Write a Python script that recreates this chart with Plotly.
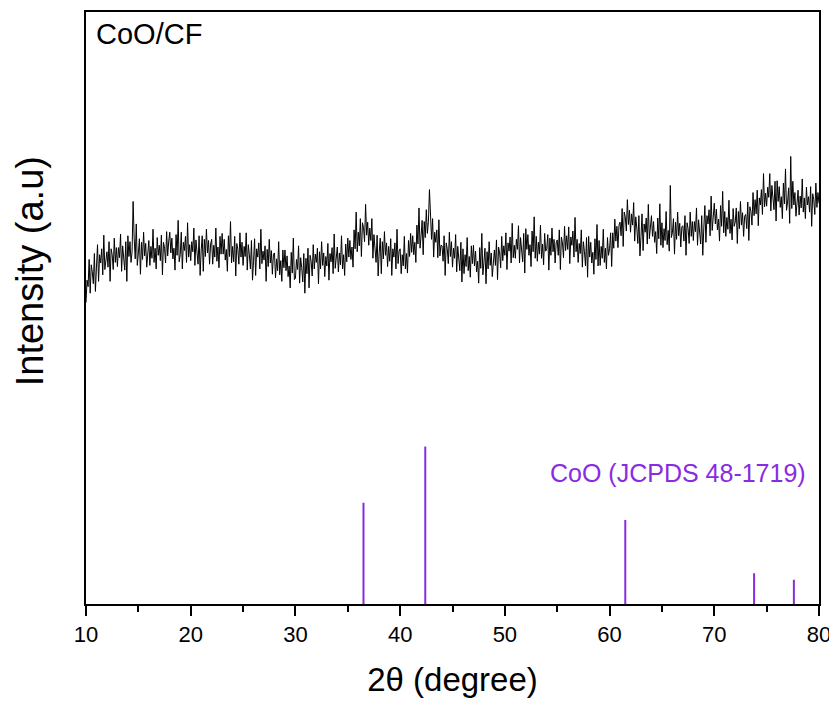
import plotly.graph_objects as go

# XRD pattern of CoO/CF, 2theta from 10 to 80 deg in 0.1 deg steps (arbitrary intensity units)
two_theta_start = 10.0
two_theta_step = 0.1
intensity = [
    50.9, 54.7, 53.6, 58.2, 52.5, 57.3, 56.1, 54.1, 59.2, 52.8,  # 10
    56.9, 60.7, 54.5, 59.0, 57.6, 60.0, 55.6, 62.3, 56.5, 58.6,  # 11
    59.5, 56.9, 61.2, 54.5, 60.0, 59.0, 56.5, 61.8, 57.7, 60.2,  # 12
    57.0, 60.2, 58.5, 62.5, 56.2, 60.5, 58.8, 56.4, 61.2, 54.5,  # 13
    62.2, 58.7, 61.2, 57.7, 59.5, 68.0, 61.8, 58.3, 64.2, 57.2,  # 14
    59.3, 61.7, 55.7, 61.1, 58.2, 62.8, 58.8, 60.9, 56.9, 60.3,  # 15
    61.4, 57.2, 60.4, 58.4, 63.3, 57.7, 60.1, 56.6, 61.9, 58.9,  # 16
    60.6, 58.0, 62.3, 55.6, 61.1, 60.1, 57.6, 62.9, 58.8, 61.3,  # 17
    62.8, 59.3, 61.8, 58.3, 60.1, 56.4, 62.4, 58.9, 64.8, 57.8,  # 18
    59.0, 62.8, 56.6, 61.1, 59.7, 62.1, 57.7, 64.4, 58.6, 60.7,  # 19
    58.0, 61.2, 59.5, 63.5, 57.2, 61.5, 59.8, 57.4, 62.2, 55.5,  # 20
    59.8, 62.2, 56.2, 61.6, 58.7, 63.3, 59.3, 61.4, 57.4, 60.8,  # 21
    61.6, 57.4, 60.6, 58.6, 63.5, 57.9, 60.3, 56.8, 62.1, 59.1,  # 22
    62.6, 59.1, 61.6, 58.1, 59.9, 56.2, 62.2, 58.7, 64.6, 57.6,  # 23
    60.4, 57.8, 62.1, 55.4, 60.9, 59.9, 57.4, 62.7, 58.6, 61.1,  # 24
    57.2, 60.4, 58.7, 62.7, 56.4, 60.7, 59.0, 56.6, 61.4, 54.7,  # 25
    57.9, 61.7, 55.5, 60.0, 58.6, 61.0, 56.6, 63.3, 57.5, 59.6,  # 26
    58.1, 60.5, 54.5, 59.9, 57.0, 61.6, 57.6, 59.7, 55.7, 59.1,  # 27
    59.3, 55.1, 58.3, 56.3, 61.2, 55.6, 58.0, 54.5, 59.8, 56.8,  # 28
    59.8, 56.3, 58.8, 55.3, 57.1, 53.4, 59.4, 55.9, 61.8, 54.8,  # 29
    55.0, 58.2, 56.5, 60.5, 54.2, 58.5, 56.8, 54.4, 59.2, 52.5,  # 30
    58.4, 55.8, 60.1, 53.4, 58.9, 57.9, 55.4, 60.7, 56.6, 59.1,  # 31
    57.7, 60.1, 54.1, 59.5, 56.6, 61.2, 57.2, 59.3, 55.3, 58.7,  # 32
    57.1, 60.9, 54.7, 59.2, 57.8, 60.2, 55.8, 62.5, 56.7, 58.8,  # 33
    60.3, 56.1, 59.3, 57.3, 62.2, 56.6, 59.0, 55.5, 60.8, 57.8,  # 34
    61.8, 58.6, 61.4, 58.2, 60.3, 56.9, 63.2, 60.0, 66.2, 59.5,  # 35
    62.8, 60.5, 65.1, 58.7, 64.4, 63.6, 61.2, 67.5, 62.3, 64.5,  # 36
    60.6, 63.5, 61.4, 65.1, 58.4, 62.4, 60.4, 57.7, 62.3, 55.4,  # 37
    59.4, 61.8, 55.8, 61.2, 58.3, 62.9, 58.9, 61.0, 57.0, 60.4,  # 38
    57.9, 61.7, 55.5, 60.0, 58.6, 61.0, 56.6, 63.3, 57.5, 59.6,  # 39
    60.0, 55.8, 59.0, 57.1, 62.1, 56.6, 59.2, 55.9, 61.4, 58.7,  # 40
    62.6, 59.4, 62.2, 59.0, 61.1, 57.7, 64.0, 60.8, 66.9, 60.1,  # 41
    62.2, 64.8, 59.0, 64.6, 61.9, 66.6, 62.6, 64.6, 70.0, 63.7,  # 42
    61.6, 65.1, 58.6, 62.8, 61.1, 63.2, 58.5, 64.9, 58.8, 60.6,  # 43
    60.5, 57.9, 62.2, 55.5, 61.0, 60.0, 57.5, 62.8, 58.7, 61.2,  # 44
    56.9, 60.1, 58.4, 62.4, 56.1, 60.4, 58.7, 56.3, 61.1, 54.4,  # 45
    60.0, 55.8, 59.0, 57.0, 61.9, 56.3, 58.7, 55.2, 60.5, 57.5,  # 46
    60.6, 57.1, 59.6, 56.1, 57.9, 54.2, 60.2, 56.7, 62.6, 55.6,  # 47
    57.7, 60.1, 54.1, 59.5, 56.6, 61.2, 57.2, 59.3, 55.3, 58.7,  # 48
    59.8, 57.2, 61.5, 54.8, 60.3, 59.3, 56.8, 62.1, 58.0, 60.5,  # 49
    58.9, 62.7, 56.5, 61.0, 59.6, 62.0, 57.6, 64.3, 58.5, 60.6,  # 50
    58.4, 61.6, 59.9, 63.9, 57.6, 61.9, 60.2, 57.8, 62.6, 55.9,  # 51
    63.4, 59.9, 62.4, 58.9, 60.7, 57.0, 63.0, 59.5, 65.4, 58.4,  # 52
    62.1, 57.9, 61.1, 59.1, 64.0, 58.4, 60.8, 57.3, 62.6, 59.6,  # 53
    60.0, 62.4, 56.4, 61.8, 58.9, 63.5, 59.5, 61.6, 57.6, 61.0,  # 54
    61.5, 58.9, 63.2, 56.5, 62.0, 61.0, 58.5, 63.8, 59.7, 62.2,  # 55
    59.9, 63.7, 57.5, 62.0, 60.6, 63.0, 58.6, 65.3, 59.5, 61.6,  # 56
    57.7, 60.9, 59.2, 63.2, 56.9, 61.2, 59.5, 57.1, 61.9, 55.2,  # 57
    62.1, 58.6, 61.1, 57.6, 59.4, 55.7, 61.7, 58.2, 64.1, 57.1,  # 58
    61.4, 57.2, 60.4, 58.4, 63.3, 57.7, 60.1, 56.6, 61.9, 58.9,  # 59
    60.0, 62.7, 57.0, 62.7, 60.1, 65.0, 61.3, 63.8, 60.2, 64.0,  # 60
    64.5, 62.2, 66.8, 60.4, 66.2, 65.4, 63.0, 68.3, 64.1, 66.5,  # 61
    62.8, 65.9, 64.0, 67.8, 61.3, 65.4, 63.5, 60.9, 65.6, 58.8,  # 62
    62.1, 65.9, 59.7, 64.2, 62.8, 65.2, 60.8, 67.5, 61.7, 63.8,  # 63
    65.6, 62.1, 64.6, 61.1, 62.9, 59.2, 65.2, 61.7, 67.6, 60.6,  # 64
    64.4, 60.2, 63.4, 61.4, 66.3, 60.7, 63.1, 59.6, 70.7, 61.9,  # 65
    62.7, 65.1, 59.1, 64.5, 61.6, 66.2, 62.2, 64.3, 60.3, 63.7,  # 66
    63.9, 61.3, 65.6, 58.9, 64.4, 63.4, 60.9, 66.2, 62.1, 64.6,  # 67
    61.4, 64.6, 62.9, 66.9, 60.6, 64.9, 63.2, 60.8, 65.6, 58.9,  # 68
    63.5, 67.3, 61.1, 65.6, 64.2, 66.6, 62.2, 68.9, 63.1, 65.2,  # 69
    67.7, 64.2, 66.7, 63.2, 65.0, 61.3, 67.3, 63.8, 69.7, 62.7,  # 70
    66.3, 62.1, 65.3, 63.3, 68.2, 62.6, 65.0, 61.5, 66.8, 63.8,  # 71
    64.5, 66.9, 60.9, 66.3, 63.4, 68.0, 64.0, 66.1, 62.1, 65.5,  # 72
    65.8, 63.4, 67.9, 61.4, 67.1, 66.3, 64.0, 69.5, 65.6, 68.3,  # 73
    65.9, 69.9, 63.9, 68.6, 67.4, 70.0, 65.8, 72.7, 67.1, 69.4,  # 74
    67.2, 70.4, 68.7, 72.7, 66.4, 70.7, 69.0, 66.6, 71.4, 64.7,  # 75
    71.5, 68.0, 70.5, 67.0, 68.8, 65.1, 71.1, 67.6, 73.5, 66.5,  # 76
    67.9, 70.3, 64.3, 75.6, 66.8, 71.4, 67.4, 69.5, 65.5, 68.9,  # 77
    69.9, 65.7, 68.9, 66.9, 71.8, 66.2, 68.6, 65.1, 70.4, 67.4,  # 78
    68.8, 66.2, 70.5, 63.8, 69.3, 68.3, 65.8, 71.1, 67.0, 69.5,  # 79
    67.7,                                                        # 80
]
two_theta = [round(two_theta_start + i * two_theta_step, 2) for i in range(len(intensity))]

# Reference pattern CoO (JCPDS 48-1719)
ref_positions = [36.5, 42.4, 61.5, 73.8, 77.6]
ref_heights = [17.1, 26.6, 14.2, 5.2, 4.1]

x_ticks = [10, 20, 30, 40, 50, 60, 70, 80]

stick_x, stick_y = [], []
for p, h in zip(ref_positions, ref_heights):
    stick_x += [p, p, None]
    stick_y += [0, h, None]

fig = go.Figure()
fig.add_trace(go.Scatter(x=two_theta, y=intensity, mode="lines",
                         line=dict(color="black", width=1), showlegend=False))
fig.add_trace(go.Scatter(x=stick_x, y=stick_y, mode="lines",
                         line=dict(color="#8a2be2", width=2), showlegend=False))

font_family = "Liberation Sans, Arial, sans-serif"

fig.update_layout(
    width=829, height=690,
    margin=dict(l=78, r=18, t=4, b=94, autoexpand=False),
    paper_bgcolor="white", plot_bgcolor="white",
    font=dict(family=font_family, color="black"),
    showlegend=False,
    xaxis=dict(
        range=[10, 80], tickvals=x_ticks, ticktext=[str(t) for t in x_ticks],
        ticks="outside", ticklen=10, tickwidth=2, tickcolor="black",
        minor=dict(ticks="outside", ticklen=6, tickwidth=2, tickcolor="black", dtick=5, tick0=5),
        showline=True, linewidth=2, linecolor="black", mirror=True,
        showgrid=False, zeroline=False, ticklabeloverflow="allow", automargin=False,
        tickfont=dict(size=22, family=font_family),
        title=dict(text="2θ (degree)", font=dict(size=33, family=font_family), standoff=23),
    ),
    yaxis=dict(
        range=[0, 100], showticklabels=False, ticks="", automargin=False,
        showline=True, linewidth=2, linecolor="black", mirror=True,
        showgrid=False, zeroline=False,
    ),
    annotations=[
        dict(text="Intensity (a.u)", xref="paper", yref="paper", x=-0.0764, y=0.562,
             xanchor="center", yanchor="middle", textangle=-90, showarrow=False,
             font=dict(size=38, color="black", family=font_family)),
        dict(text="CoO/CF", xref="paper", yref="paper", x=0.011, y=0.962,
             xanchor="left", yanchor="middle", showarrow=False,
             font=dict(size=29, color="black", family=font_family)),
        dict(text="CoO (JCPDS 48-1719)", xref="paper", yref="paper", x=0.985, y=0.222,
             xanchor="right", yanchor="middle", showarrow=False,
             font=dict(size=25, color="#8a2be2", family=font_family)),
    ],
)

fig.write_html("out.html")
